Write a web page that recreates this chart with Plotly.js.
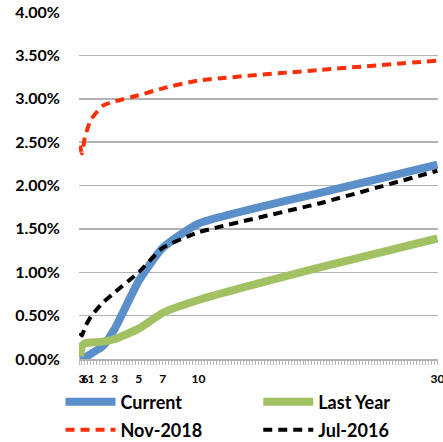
<!DOCTYPE html>
<html><head><meta charset="utf-8">
<script src="https://cdn.plot.ly/plotly-3.0.1.min.js"></script>
<style>html,body{margin:0;padding:0;background:#fff}#c{width:443px;height:442px}</style>
</head><body><div id="c"></div>
<script>
const maturities = [0.083, 0.25, 0.5, 1, 2, 3, 5, 7, 10, 20, 30];
const current  = [0.00, 0.01, 0.02, 0.06, 0.15, 0.35, 0.90, 1.28, 1.56, 1.91, 2.24];
const lastYear = [0.03, 0.15, 0.18, 0.19, 0.20, 0.23, 0.35, 0.53, 0.68, 1.05, 1.39];
const nov2018  = [2.46, 2.37, 2.56, 2.76, 2.92, 2.97, 3.04, 3.12, 3.21, 3.33, 3.44];
const jul2016  = [0.30, 0.27, 0.37, 0.49, 0.65, 0.77, 1.00, 1.28, 1.46, 1.79, 2.17];
const tickVals = [0.25, 0.5, 1, 2, 3, 5, 7, 10, 30];
const tickText = ['3', '6', '1', '2', '3', '5', '7', '10', '30'];
const yTicks = [0, 0.5, 1, 1.5, 2, 2.5, 3, 3.5, 4];

const pct = v => v / 100;
const traces = [
  {name:'Current', y: current, legend:'legend', line:{color:'#5b8fca', width:8}},
  {name:'Last Year', y: lastYear, legend:'legend2', line:{color:'#a2c163', width:8}},
  {name:'Nov-2018', y: nov2018, legend:'legend3', line:{color:'#ff2f0a', width:4, dash:'9px,6px'}},
  {name:'Jul-2016', y: jul2016, legend:'legend4', line:{color:'#000000', width:4, dash:'9px,6px'}}
].map(t => ({type:'scatter', mode:'lines', x: maturities, y: t.y.map(pct), name: t.name, legend: t.legend,
  cliponaxis:false, line: Object.assign({shape:'spline', smoothing:0.5}, t.line)}));

const lfont = {size:18, family:'Lato, sans-serif', weight:'bold', color:'#000'};
const mkLegend = (x, y) => ({orientation:'h', x:x, xanchor:'left', y:y, yanchor:'middle', itemwidth:50,
  font:lfont, bgcolor:'rgba(0,0,0,0)', borderwidth:0});
const W = 443 - 78.5 - 5, H = 442 - 12 - 83;
const px = xp => (xp - 78.5) / W;
const py = yp => (359 - yp) / H;

const layout = {
  width:443, height:442,
  margin:{l:78.5, r:5, t:12, b:83, autoexpand:false},
  paper_bgcolor:'#fff', plot_bgcolor:'#fff',
  font:{family:'Lato, "Open Sans", sans-serif', color:'#000'},
  showlegend:true,
  xaxis:{range:[0,30.05], tickvals:tickVals, ticktext:tickText, tickangle:0, showgrid:false, zeroline:false,
    showline:true, linecolor:'#b3b3b3', linewidth:1.5, ticks:'', ticklabeloverflow:'allow',
    minor:{dtick:0.25, ticks:'outside', ticklen:4, tickcolor:'#b8b8b8', tickwidth:1, showgrid:false},
    tickfont:{size:12, family:'Lato, sans-serif', weight:'bold'}, ticklabelstandoff:8, fixedrange:true},
  yaxis:{range:[0,0.04], tickvals:yTicks.map(pct), tickformat:'.2%', showgrid:true, gridcolor:'#b3b3b3', gridwidth:1.5,
    zeroline:false, showline:false, ticks:'', ticklabelstandoff:18,
    tickfont:{size:16, family:'Lato, sans-serif', weight:'bold'}, fixedrange:true},
  legend: mkLegend(px(60), py(402)),
  legend2: mkLegend(px(258), py(402)),
  legend3: mkLegend(px(60), py(430)),
  legend4: mkLegend(px(258), py(430))
};
Plotly.newPlot('c', traces, layout, {displayModeBar:false, staticPlot:true});
</script></body></html>
